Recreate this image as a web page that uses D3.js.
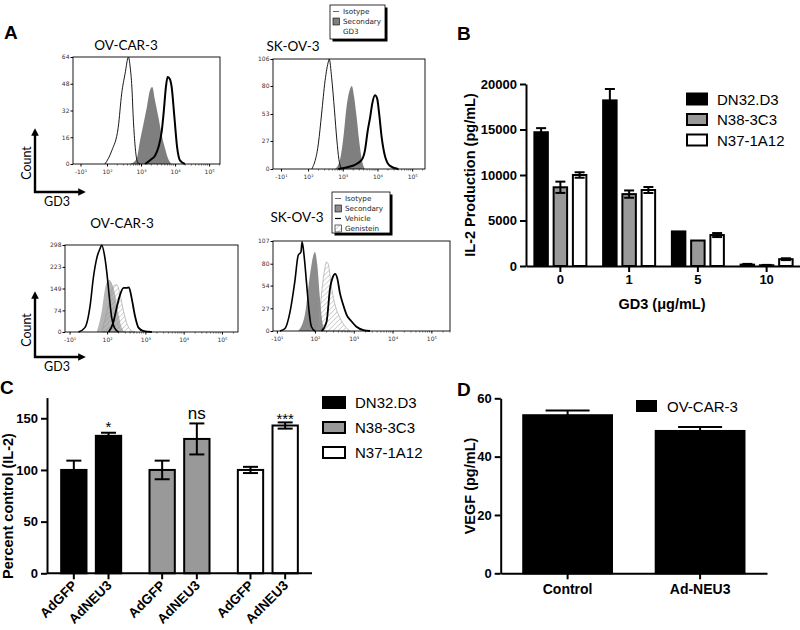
<!DOCTYPE html>
<html><head><meta charset="utf-8">
<script src="https://cdn.jsdelivr.net/npm/d3@7"></script>
<style>body{margin:0;background:#fff} svg{display:block}</style>
</head><body><svg id="c" width="800" height="630"></svg>
<script>
// ---------- DATA ----------
// Panel A: flow histograms. x = display channel in decades (biexponential axis), y = count
const histTickLabels = ["-10\u00B9","10\u00B2","10\u00B3","10\u2074","10\u2075"];
const histTickTop = [1.22, 2, 3, 4, 5];
const histTickBottom = [1.02, 2, 3, 4, 5];

const tlIsotype = [[1.94,0],[2.14,8],[2.33,22],[2.43,42],[2.53,54],[2.63,64],[2.68,58],[2.73,46],[2.77,28],[2.82,12],[2.90,1],[2.97,0]];
const tlSecondary = [[2.68,0],[2.87,3],[2.97,14],[3.07,24],[3.17,34],[3.26,44],[3.33,46],[3.41,38],[3.51,28],[3.61,17],[3.71,9],[3.80,3],[3.90,0]];
const tlGD3 = [[3.12,0],[3.31,3],[3.41,5],[3.51,10],[3.61,20],[3.67,32],[3.73,46],[3.78,52],[3.84,51],[3.90,46],[3.98,28],[4.06,10],[4.15,2],[4.29,0]];

const trIsotype = [[2.11,0],[2.30,25],[2.39,53],[2.49,85],[2.59,104],[2.61,106],[2.68,88],[2.76,57],[2.83,28],[2.89,9],[2.97,0]];
const trSecondary = [[2.78,0],[2.92,9],[3.02,31],[3.11,60],[3.21,77],[3.26,80],[3.33,69],[3.40,50],[3.47,28],[3.55,9],[3.64,0]];
const trGD3 = [[2.87,0],[3.16,2],[3.35,4],[3.55,9],[3.64,18],[3.72,37],[3.79,50],[3.85,63],[3.93,71],[3.99,68],[4.05,53],[4.12,31],[4.22,12],[4.36,3],[4.60,0]];

const blIsotype = [[1.25,0],[1.42,15],[1.56,94],[1.64,185],[1.73,253],[1.82,287],[1.86,298],[1.93,264],[1.99,207],[2.06,117],[2.12,49],[2.19,15],[2.30,0]];
const blSecondary = [[1.73,0],[1.86,71],[1.95,151],[2.04,179],[2.12,168],[2.21,128],[2.30,60],[2.38,15],[2.47,0]];
const blGenistein = [[1.86,0],[2.04,94],[2.16,156],[2.25,162],[2.34,128],[2.43,71],[2.51,32],[2.64,4],[2.73,0]];
const blVehicle = [[2.04,0],[2.16,32],[2.25,83],[2.34,128],[2.43,151],[2.51,151],[2.57,153],[2.64,117],[2.73,54],[2.82,15],[2.94,4],[3.17,0]];

const brIsotype = [[1.10,0],[1.23,3],[1.36,23],[1.48,58],[1.57,90],[1.64,94],[1.67,106],[1.72,90],[1.79,54],[1.85,23],[1.91,5],[2.0,0]];
const brSecondary = [[1.57,0],[1.74,19],[1.87,66],[1.96,90],[2.0,94],[2.06,79],[2.13,39],[2.19,11],[2.26,0]];
const brGenistein = [[2.09,0],[2.16,39],[2.24,70],[2.30,82],[2.34,80],[2.43,51],[2.52,31],[2.64,16],[2.77,6],[2.90,0]];
const brVehicle = [[2.17,0],[2.30,11],[2.39,51],[2.46,64],[2.52,68],[2.58,62],[2.64,46],[2.73,31],[2.82,19],[2.95,11],[3.07,5],[3.25,1],[3.42,0]];

// Panel B: IL-2 production
const il2Groups = ["0","1","5","10"];
const il2Series = ["DN32.D3","N38-3C3","N37-1A12"];
const il2DN32 = [14700, 18200, 3800, 150];
const il2DN32Err = [450, 1250, 0, 80];
const il2N38 = [8650, 7900, 2800, 80];
const il2N38Err = [620, 400, 0, 40];
const il2N37 = [10000, 8350, 3400, 750];
const il2N37Err = [300, 330, 220, 100];
const il2Ticks = [0, 5000, 10000, 15000, 20000];

// Panel C: percent control
const pcGroups = ["DN32.D3","N38-3C3","N37-1A12"];
const pcConds = ["AdGFP","AdNEU3"];
const pcDN32 = [100, 133];
const pcDN32Err = [9, 3];
const pcN38 = [100, 130];
const pcN38Err = [9, 15];
const pcN37 = [100, 143];
const pcN37Err = [3, 3];
const pcSig = ["*", "ns", "***"];
const pcTicks = [0, 50, 100, 150];

// Panel D: VEGF
const vegfCats = ["Control","Ad-NEU3"];
const vegfVals = [54.2, 48.8];
const vegfErr = [1.6, 1.4];
const vegfTicks = [0, 20, 40, 60];

// ---------- DRAW ----------
const svg = d3.select("#c");
const defs = svg.append("defs");
const pat = defs.append("pattern").attr("id","hatch").attr("patternUnits","userSpaceOnUse")
  .attr("width",3.5).attr("height",3.5).attr("patternTransform","rotate(45)");
pat.append("line").attr("x1",0).attr("y1",0).attr("x2",0).attr("y2",3.5).attr("stroke","#888").attr("stroke-width",0.7);
defs.append("marker").attr("id","arr").attr("viewBox","0 0 10 10").attr("refX",5).attr("refY",5)
  .attr("markerWidth",3.2).attr("markerHeight",3.2).attr("orient","auto-start-reverse")
  .append("path").attr("d","M0,0 L10,5 L0,10 z").attr("fill","#000");

const boldF = "'Liberation Sans', Arial, sans-serif";
const calF = "Lato, 'Open Sans', sans-serif";

function panelLabel(t, x, y) {
  svg.append("text").attr("x",x).attr("y",y).text(t)
    .attr("font-family",boldF).attr("font-weight","bold").attr("font-size",19);
}
panelLabel("A", 4, 39);
panelLabel("B", 457, 40);
panelLabel("C", 0, 394);
panelLabel("D", 457, 396);

function histPanel(cfg) {
  const g = svg.append("g");
  const x = d3.scaleLinear().domain(cfg.xDomain).range([cfg.x0, cfg.x1]);
  const y = d3.scaleLinear().domain([0, cfg.yMax]).range([cfg.y1, cfg.y0]);
  const area = d3.area().x(d=>x(d[0])).y0(y(0)).y1(d=>y(d[1])).curve(d3.curveMonotoneX);
  const line = d3.line().x(d=>x(d[0])).y(d=>y(d[1])).curve(d3.curveMonotoneX);
  cfg.layers.forEach(L => {
    if (L.fill) {
      g.append("path").attr("d", area(L.data)).attr("fill", L.fill)
        .attr("stroke", L.stroke || "none").attr("stroke-width", 0.6);
    } else {
      g.append("path").attr("d", line(L.data)).attr("fill","none")
        .attr("stroke", "#000").attr("stroke-width", L.sw).attr("stroke-linejoin","round");
    }
  });
  g.append("rect").attr("x",cfg.x0).attr("y",cfg.y0).attr("width",cfg.x1-cfg.x0)
    .attr("height",cfg.y1-cfg.y0).attr("fill","none").attr("stroke","#000").attr("stroke-width",0.9);
  const ya = g.append("g").attr("transform",`translate(${cfg.x0},0)`)
    .call(d3.axisLeft(y).tickValues(cfg.yTicks).tickSize(2.5).tickPadding(1).tickFormat(d3.format("d")));
  ya.select(".domain").remove();
  ya.selectAll("text").attr("font-size",6).attr("font-family","'DejaVu Sans', sans-serif").attr("fill","#333");
  const xa = g.append("g").attr("transform",`translate(0,${cfg.y1})`)
    .call(d3.axisBottom(x).tickValues(cfg.xTicks).tickSize(2.5).tickPadding(3)
      .tickFormat((d,i)=>histTickLabels[i]));
  xa.select(".domain").remove();
  xa.selectAll("text").attr("font-size",6).attr("font-family","'DejaVu Sans', sans-serif").attr("fill","#333");
  // minor log ticks
  const minors = [];
  [2,3,4,5].forEach(dd => { for (let k=2;k<=9;k++) minors.push(dd + Math.log10(k)); });
  g.selectAll(".mn").data(minors.filter(v => v > cfg.xDomain[0] && v < cfg.xDomain[1])).enter()
    .append("line").attr("x1",d=>x(d)).attr("x2",d=>x(d)).attr("y1",cfg.y1).attr("y2",cfg.y1+1.6)
    .attr("stroke","#000").attr("stroke-width",0.5);
  svg.append("text").attr("x",cfg.tx).attr("y",cfg.ty).attr("text-anchor","middle").text(cfg.title)
    .attr("font-family",calF).attr("font-size",13.5);
}

histPanel({x0:73,x1:220,y0:57,y1:164,xDomain:[1.0,5.32],yMax:64,yTicks:[0,16,32,48,64],xTicks:histTickTop,
  title:"OV-CAR-3",tx:126,ty:50,
  layers:[{data:tlSecondary,fill:"#7f7f7f"},{data:tlIsotype,sw:0.9},{data:tlGD3,sw:2}]});
histPanel({x0:273,x1:425,y0:59,y1:169,xDomain:[0.99,5.37],yMax:106,yTicks:[0,27,53,80,106],xTicks:histTickTop,
  title:"SK-OV-3",tx:293,ty:51,
  layers:[{data:trSecondary,fill:"#7f7f7f"},{data:trIsotype,sw:0.9},{data:trGD3,sw:2}]});
histPanel({x0:65,x1:238,y0:245,y1:332,xDomain:[0.90,5.42],yMax:298,yTicks:[0,74,149,223,298],xTicks:histTickBottom,
  title:"OV-CAR-3",tx:122,ty:228,
  layers:[{data:blSecondary,fill:"#b5b5b5"},{data:blGenistein,fill:"url(#hatch)",stroke:"#999"},{data:blIsotype,sw:1.6},{data:blVehicle,sw:1.8}]});
histPanel({x0:273,x1:450,y0:241,y1:331,xDomain:[0.92,5.48],yMax:107,yTicks:[0,27,54,80,107],xTicks:histTickBottom,
  title:"SK-OV-3",tx:297,ty:222,
  layers:[{data:brSecondary,fill:"#8c8c8c"},{data:brGenistein,fill:"url(#hatch)",stroke:"#999"},{data:brIsotype,sw:1.6},{data:brVehicle,sw:1.8}]});

// Count / GD3 arrows
function arrows(yTop, yBot, countY, gdY) {
  svg.append("path").attr("d",`M35,${yTop} L35,${yBot} L82,${yBot}`).attr("fill","none")
    .attr("stroke","#000").attr("stroke-width",2.4)
    .attr("marker-start","url(#arr)").attr("marker-end","url(#arr)");
  svg.append("text").attr("transform",`translate(31,${countY}) rotate(-90)`).attr("text-anchor","middle")
    .text("Count").attr("font-family",calF).attr("font-size",12.5);
  svg.append("text").attr("x",57).attr("y",gdY).attr("text-anchor","middle")
    .text("GD3").attr("font-family",calF).attr("font-size",12.5);
}
arrows(132, 192, 163, 206);
arrows(295, 357, 330, 371);

// Panel A legends
function flowLegend(x, y, w, h, items) {
  svg.append("rect").attr("x",x+2.5).attr("y",y+2.5).attr("width",w).attr("height",h).attr("fill","#000");
  svg.append("rect").attr("x",x).attr("y",y).attr("width",w).attr("height",h).attr("fill","#fff")
    .attr("stroke","#000").attr("stroke-width",0.8);
  items.forEach((it, i) => {
    const cy = y + 6.5 + i * 10;
    if (it.kind === "line") {
      svg.append("line").attr("x1",x+3).attr("x2",x+9).attr("y1",cy).attr("y2",cy)
        .attr("stroke", it.color || "#555").attr("stroke-width", it.sw || 0.9);
    } else if (it.kind === "box") {
      svg.append("rect").attr("x",x+3).attr("y",cy-3.5).attr("width",6.5).attr("height",7)
        .attr("fill",it.fill).attr("stroke","#000").attr("stroke-width",0.6);
    }
    svg.append("text").attr("x",x+13).attr("y",cy+2.6).text(it.label)
      .attr("font-family","'DejaVu Sans', sans-serif").attr("font-size",7.2).attr("fill","#222");
  });
}
flowLegend(330, 5, 55, 34, [
  {kind:"line",label:"Isotype"},
  {kind:"box",label:"Secondary",fill:"#7f7f7f"},
  {kind:"none",label:"GD3"}]);
flowLegend(332, 192, 58, 41, [
  {kind:"line",label:"Isotype"},
  {kind:"box",label:"Secondary",fill:"#8c8c8c"},
  {kind:"line",label:"Vehicle",color:"#000",sw:1.2},
  {kind:"box",label:"Genistein",fill:"url(#hatch)"}]);

// ---------- Panel B ----------
function styleAxis(sel, fs) {
  sel.select(".domain").attr("stroke-width",2);
  sel.selectAll(".tick line").attr("stroke-width",2);
  sel.selectAll("text").attr("font-family",boldF).attr("font-weight","bold").attr("font-size",fs).attr("fill","#000");
}
function errBar(g, cx, yTop, yBot, cw) {
  g.append("line").attr("x1",cx).attr("x2",cx).attr("y1",yTop).attr("y2",yBot).attr("stroke","#000").attr("stroke-width",2);
  g.append("line").attr("x1",cx-cw/2).attr("x2",cx+cw/2).attr("y1",yTop).attr("y2",yTop).attr("stroke","#000").attr("stroke-width",2);
  g.append("line").attr("x1",cx-cw/2).attr("x2",cx+cw/2).attr("y1",yBot).attr("y2",yBot).attr("stroke","#000").attr("stroke-width",2);
}
(function(){
  const g = svg.append("g");
  const x0 = d3.scaleBand().domain(il2Groups).range([526, 801]);
  const x1 = d3.scaleBand().domain(il2Series).range([-26, 26]).paddingInner(0.3);
  const y = d3.scaleLinear().domain([0, 20000]).range([266, 84]);
  const cols = ["#000","#999","#fff"];
  const vals = [il2DN32, il2N38, il2N37];
  const errs = [il2DN32Err, il2N38Err, il2N37Err];
  il2Series.forEach((s, si) => {
    il2Groups.forEach((gr, gi) => {
      const cx = x0(gr) + x0.bandwidth()/2 + x1(s);
      g.append("rect").attr("x",cx).attr("y",y(vals[si][gi])).attr("width",x1.bandwidth())
        .attr("height",y(0)-y(vals[si][gi])).attr("fill",cols[si]).attr("stroke","#000").attr("stroke-width",2);
    });
  });
  il2Series.forEach((s, si) => {
    il2Groups.forEach((gr, gi) => {
      if (!errs[si][gi]) return;
      const cx = x0(gr) + x0.bandwidth()/2 + x1(s) + x1.bandwidth()/2;
      errBar(g, cx, y(vals[si][gi]+errs[si][gi]), y(vals[si][gi]-errs[si][gi]), 10);
    });
  });
  const ya = g.append("g").attr("transform","translate(526,0)")
    .call(d3.axisLeft(y).tickValues(il2Ticks).tickSize(6).tickSizeOuter(0).tickPadding(3).tickFormat(d3.format("d")));
  styleAxis(ya, 13);
  const xa = g.append("g").attr("transform","translate(0,266)")
    .call(d3.axisBottom(x0).tickSize(6).tickSizeOuter(0).tickPadding(3));
  styleAxis(xa, 13);
  g.append("text").attr("transform","translate(475,175) rotate(-90)").attr("text-anchor","middle")
    .text("IL-2 Production (pg/mL)").attr("font-family",boldF).attr("font-weight","bold").attr("font-size",14.5);
  g.append("text").attr("x",662).attr("y",309).attr("text-anchor","middle")
    .text("GD3 (\u03BCg/mL)").attr("font-family",boldF).attr("font-weight","bold").attr("font-size",14.5);
  il2Series.forEach((s, si) => {
    const cy = 99 + si * 20.5;
    g.append("rect").attr("x",687).attr("y",cy-5.5).attr("width",20).attr("height",11)
      .attr("fill",cols[si]).attr("stroke","#000").attr("stroke-width",2);
    g.append("text").attr("x",717).attr("y",cy+5.5).text(s).attr("font-family",boldF).attr("font-size",15);
  });
})();

// ---------- Panel C ----------
(function(){
  const g = svg.append("g");
  const x0 = d3.scaleBand().domain(pcGroups).range([47, 312]);
  const x1 = d3.scaleBand().domain(pcConds).range([-30, 30]).paddingInner(0.27);
  const y = d3.scaleLinear().domain([0, 170]).range([573.3, 397.6]);
  const cols = ["#000","#999","#fff"];
  const vals = [pcDN32, pcN38, pcN37];
  const errs = [pcDN32Err, pcN38Err, pcN37Err];
  const centers = [];
  pcGroups.forEach((gr, gi) => {
    pcConds.forEach((c, ci) => {
      const bx = x0(gr) + x0.bandwidth()/2 + x1(c);
      const cx = bx + x1.bandwidth()/2;
      centers.push({cx, label:c});
      g.append("rect").attr("x",bx).attr("y",y(vals[gi][ci])).attr("width",x1.bandwidth())
        .attr("height",y(0)-y(vals[gi][ci])).attr("fill",cols[gi]).attr("stroke","#000").attr("stroke-width",2);
      errBar(g, cx, y(vals[gi][ci]+errs[gi][ci]), y(vals[gi][ci]-errs[gi][ci]), 15);
    });
    const cx2 = x0(gr) + x0.bandwidth()/2 + x1("AdNEU3") + x1.bandwidth()/2;
    const top = y(vals[gi][1] + errs[gi][1]);
    const sig = pcSig[gi];
    g.append("text").attr("x",cx2).attr("y", sig === "ns" ? top - 4 : (sig === "*" ? top - 1 : top + 2)).attr("text-anchor","middle")
      .text(sig).attr("font-family",boldF).attr("font-size", sig === "ns" ? 17 : 15);
  });
  const ya = g.append("g").attr("transform","translate(47,0)")
    .call(d3.axisLeft(y).tickValues(pcTicks).tickSize(6).tickSizeOuter(0).tickPadding(3));
  styleAxis(ya, 13);
  const xa = g.append("g").attr("transform","translate(0,573.3)");
  xa.append("line").attr("x1",47).attr("x2",312).attr("stroke","#000").attr("stroke-width",2);
  centers.forEach(c => {
    xa.append("line").attr("x1",c.cx).attr("x2",c.cx).attr("y1",0).attr("y2",6).attr("stroke","#000").attr("stroke-width",2);
    xa.append("text").attr("transform",`translate(${c.cx+4},${13}) rotate(-45)`).attr("text-anchor","end")
      .text(c.label).attr("font-family",boldF).attr("font-weight","bold").attr("font-size",13.5);
  });
  g.append("text").attr("transform","translate(13,506) rotate(-90)").attr("text-anchor","middle")
    .text("Percent control (IL-2)").attr("font-family",boldF).attr("font-weight","bold").attr("font-size",14.5);
  pcGroups.forEach((s, si) => {
    const cy = 402.5 + si * 25;
    g.append("rect").attr("x",323).attr("y",cy-5.5).attr("width",22).attr("height",11)
      .attr("fill",cols[si]).attr("stroke","#000").attr("stroke-width",2);
    g.append("text").attr("x",355).attr("y",cy+5.5).text(s).attr("font-family",boldF).attr("font-size",15);
  });
})();

// ---------- Panel D ----------
(function(){
  const g = svg.append("g");
  const x = d3.scaleBand().domain(vegfCats).range([500.7, 767]).paddingInner(0.33).paddingOuter(0.17);
  const y = d3.scaleLinear().domain([0, 60]).range([573.3, 398.3]);
  vegfCats.forEach((c, i) => {
    g.append("rect").attr("x",x(c)).attr("y",y(vegfVals[i])).attr("width",x.bandwidth())
      .attr("height",y(0)-y(vegfVals[i])).attr("fill","#000").attr("stroke","#000").attr("stroke-width",2);
    errBar(g, x(c)+x.bandwidth()/2, y(vegfVals[i]+vegfErr[i]), y(vegfVals[i]-vegfErr[i]), 44);
  });
  const ya = g.append("g").attr("transform","translate(500.7,0)")
    .call(d3.axisLeft(y).tickValues(vegfTicks).tickSize(6).tickSizeOuter(0).tickPadding(3));
  styleAxis(ya, 13);
  const xa = g.append("g").attr("transform","translate(0,573.3)")
    .call(d3.axisBottom(x).tickSize(6).tickSizeOuter(0).tickPadding(5));
  styleAxis(xa, 14);
  g.append("text").attr("transform","translate(475,486) rotate(-90)").attr("text-anchor","middle")
    .text("VEGF (pg/mL)").attr("font-family",boldF).attr("font-weight","bold").attr("font-size",14.5);
  g.append("rect").attr("x",636).attr("y",400).attr("width",21).attr("height",12).attr("fill","#000");
  g.append("text").attr("x",667).attr("y",411.5).text("OV-CAR-3").attr("font-family",boldF).attr("font-size",15);
})();
</script>
</body></html>
